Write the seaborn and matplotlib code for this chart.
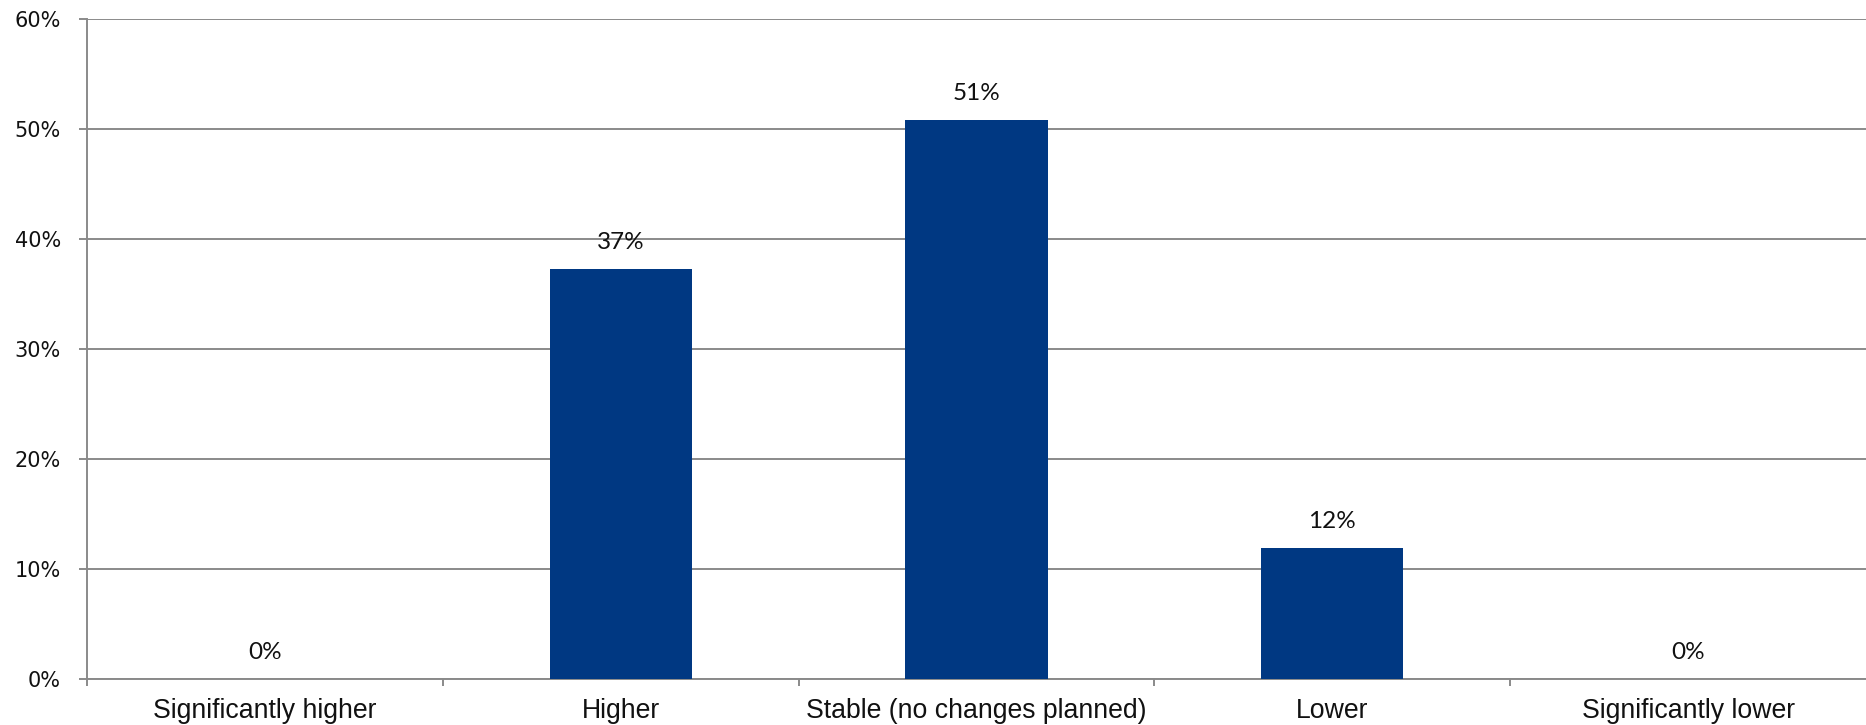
import matplotlib
matplotlib.use("Agg")
import matplotlib.pyplot as plt
import seaborn as sns
import pandas as pd
import numpy as np
from matplotlib.ticker import PercentFormatter, FixedLocator

categories = ["Significantly higher", "Higher", "Stable (no changes planned)", "Lower", "Significantly lower"]
values = [0.0, 37.3, 50.8, 11.9, 0.0]
labels = ["0%", "37%", "51%", "12%", "0%"]
yticks = [0, 10, 20, 30, 40, 50, 60]

sns.set_style("white")
plt.rcParams['font.family'] = ['DejaVu Sans']

df = pd.DataFrame({"category": categories, "value": values})

fig = plt.figure(figsize=(18.66, 7.25), dpi=100)
ax = fig.add_axes([87/1866, 1 - 679/725, 1 - 87/1866, (679 - 19)/725])

grid_c = "#8a8a8a"
sns.barplot(data=df, x="category", y="value", color="#003882", width=0.4,
            saturation=1, ax=ax, zorder=3, linewidth=0, edgecolor="none")

ax.set_ylim(0, 60)
ax.set_xlim(-0.5, 4.5)
ax.set_yticks(yticks)
ax.yaxis.set_major_formatter(PercentFormatter(decimals=0))
ax.yaxis.grid(True, color=grid_c, linewidth=1.4, zorder=0)
ax.set_axisbelow(True)

for s in ["top", "right"]:
    ax.spines[s].set_visible(False)
for s in ["left", "bottom"]:
    ax.spines[s].set_color(grid_c)
    ax.spines[s].set_linewidth(1.4)

ax.tick_params(axis="y", which="major", length=5.8, width=1.4, color=grid_c,
               pad=13, labelsize=15, labelcolor="#111111", left=True)
ax.tick_params(axis="x", which="major", length=0, pad=14)
for t in ax.get_xticklabels():
    t.set_fontfamily("Liberation Sans")
    t.set_fontsize(19.2)
    t.set_color("#111111")

ax.xaxis.set_minor_locator(FixedLocator(np.arange(-0.5, 4.0, 1.0)))
ax.tick_params(axis="x", which="minor", length=5, width=1.4, color=grid_c, bottom=True)

ax.set_xlabel("")
ax.set_ylabel("")

for i, (v, lab) in enumerate(zip(values, labels)):
    ax.annotate(lab, xy=(i, v), xytext=(0, 19), textcoords="offset points",
                ha="center", va="center", fontsize=17.5, family="Lato",
                color="#111111")

fig.savefig("out.png", dpi=100)
